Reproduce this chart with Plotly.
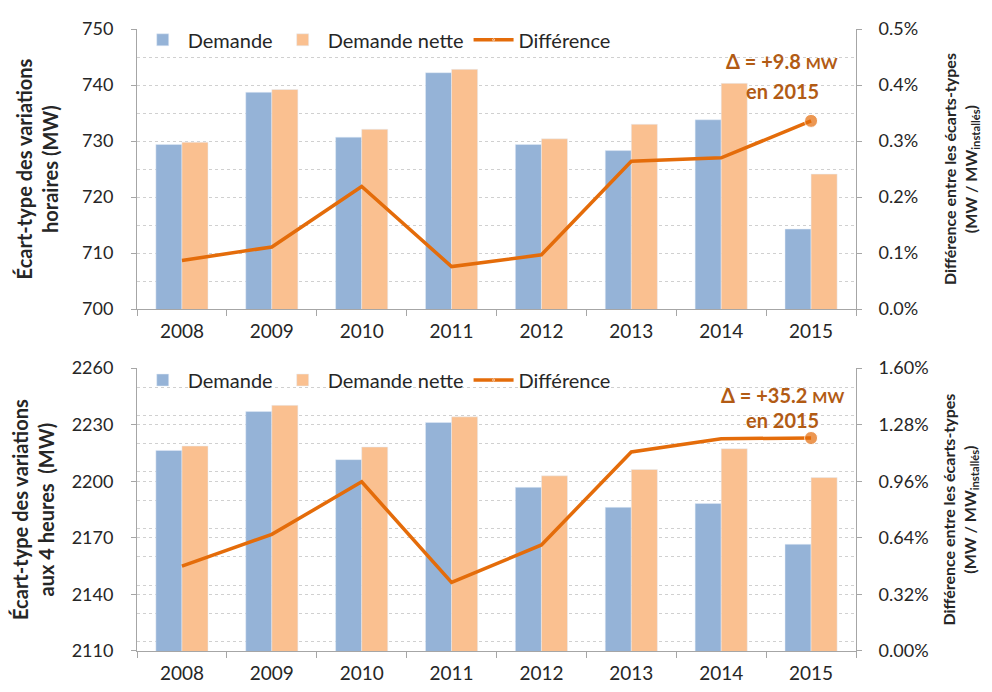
import plotly.graph_objects as go
from plotly.subplots import make_subplots

years = ["2008", "2009", "2010", "2011", "2012", "2013", "2014", "2015"]

# Top panel: hourly variations (MW) and difference (% of installed MW)
demande_h = [729.4, 738.7, 730.7, 742.2, 729.4, 728.3, 733.8, 714.3]
nette_h = [729.8, 739.2, 732.1, 742.8, 730.4, 733.0, 740.3, 724.1]
diff_h = [0.087, 0.111, 0.219, 0.076, 0.097, 0.264, 0.270, 0.336]

# Bottom panel: 4-hour variations (MW) and difference (% of installed MW)
demande_4 = [2216.4, 2237.0, 2211.5, 2231.2, 2196.8, 2186.2, 2188.2, 2166.6]
nette_4 = [2218.7, 2240.3, 2218.2, 2234.2, 2202.9, 2206.3, 2217.3, 2202.0]
diff_4 = [0.480, 0.660, 0.957, 0.388, 0.600, 1.126, 1.201, 1.205]

top_left_ticks = [700, 710, 720, 730, 740, 750]
top_right_ticks = [0.0, 0.1, 0.2, 0.3, 0.4, 0.5]
top_right_labels = ["0.0%", "0.1%", "0.2%", "0.3%", "0.4%", "0.5%"]
bot_left_ticks = [2110, 2140, 2170, 2200, 2230, 2260]
bot_right_ticks = [0.0, 0.32, 0.64, 0.96, 1.28, 1.60]
bot_right_labels = ["0.00%", "0.32%", "0.64%", "0.96%", "1.28%", "1.60%"]

BLUE = "#95B3D7"
ORANGE = "#FAC090"
LINE = "#E46C0A"
ANN = "#B25B14"
FONT = "Lato"
TXT = "#262626"
AXC = "#A6A6A6"
GRID = "#D0D0D0"

fig = make_subplots(rows=2, cols=1, specs=[[{"secondary_y": True}], [{"secondary_y": True}]],
                    vertical_spacing=0.095)

def add_panel(row, dem, net, diff, legend):
    fig.add_trace(go.Bar(x=years, y=dem, name="Demande", marker_color=BLUE,
                         legend=legend), row=row, col=1, secondary_y=False)
    fig.add_trace(go.Bar(x=years, y=net, name="Demande nette", marker_color=ORANGE,
                         legend=legend), row=row, col=1, secondary_y=False)
    sizes = [0] * (len(years) - 1) + [13]
    fig.add_trace(go.Scatter(x=years, y=diff, name="Différence", mode="lines+markers",
                             line=dict(color=LINE, width=3.5),
                             marker=dict(size=sizes, color=LINE),
                             legend=legend), row=row, col=1, secondary_y=True)

add_panel(1, demande_h, nette_h, diff_h, "legend")
add_panel(2, demande_4, nette_4, diff_4, "legend2")

fig.update_layout(
    width=984, height=684,
    margin=dict(l=129, r=136, t=14.6, b=41),
    paper_bgcolor="white", plot_bgcolor="white",
    barmode="group", bargap=0.42, bargroupgap=0.0,
    font=dict(family=FONT, size=18, color=TXT),
    legend=dict(orientation="h", x=0.001, y=1.014, xanchor="left", yanchor="top",
                bgcolor="rgba(0,0,0,0)", font=dict(size=20, color=TXT),
                itemwidth=40, tracegroupgap=0),
    legend2=dict(orientation="h", x=0.001, y=0.467, xanchor="left", yanchor="top",
                 bgcolor="rgba(0,0,0,0)", font=dict(size=20, color=TXT),
                 itemwidth=40, tracegroupgap=0),
)

fig.update_yaxes(domain=[0.5496, 1.0], row=1, col=1)
fig.update_yaxes(domain=[0.0, 0.4547], row=2, col=1)

fig.update_xaxes(type="category", categoryorder="array", categoryarray=years,
                 range=[-0.5, len(years) - 0.5], automargin=False, domain=[0.0, 1.0],
                 showline=True, linecolor=AXC, linewidth=1, ticks="outside", tickcolor=AXC,
                 ticklen=6, tickson="boundaries", tickfont=dict(size=19, color=TXT),
                 ticklabelstandoff=5, showgrid=False, tickangle=0)

left_common = dict(showline=True, linecolor=AXC, linewidth=1, ticks="outside", tickcolor=AXC,
                   ticklen=5, tickfont=dict(size=18, color=TXT), ticklabelstandoff=14,
                   showgrid=True, gridcolor=GRID, griddash="dot", gridwidth=1,
                   zeroline=False, automargin=False)
right_common = dict(showline=True, linecolor=AXC, linewidth=1, ticks="outside", tickcolor=AXC,
                    ticklen=5, tickfont=dict(size=18, color=TXT), ticklabelstandoff=13,
                    showgrid=False, zeroline=False, automargin=False)

left_title_font = dict(size=20, color=TXT)
right_title_font = dict(size=16, color=TXT)
right_title = "<b>Différence entre les écarts-types<br>(MW / MW<sub>installés</sub>)</b>"

fig.update_yaxes(range=[700, 750], tickmode="array", tickvals=top_left_ticks,
                 minor=dict(dtick=5, showgrid=True, gridcolor=GRID, griddash="dot", ticks=""),
                 title=dict(text="<b>Écart-type des variations<br>horaires (MW)</b>",
                            font=left_title_font, standoff=18),
                 row=1, col=1, secondary_y=False, **left_common)
fig.update_yaxes(range=[0, 0.5], tickmode="array", tickvals=top_right_ticks, ticktext=top_right_labels,
                 title=dict(text=right_title, font=right_title_font, standoff=27),
                 row=1, col=1, secondary_y=True, **right_common)

fig.update_yaxes(range=[2110, 2260], tickmode="array", tickvals=bot_left_ticks,
                 minor=dict(dtick=15, showgrid=True, gridcolor=GRID, griddash="dot", ticks=""),
                 title=dict(text="<b>Écart-type des variations<br>aux 4 heures  (MW)</b>",
                            font=left_title_font, standoff=18),
                 row=2, col=1, secondary_y=False, **left_common)
fig.update_yaxes(range=[0, 1.6], tickmode="array", tickvals=bot_right_ticks, ticktext=bot_right_labels,
                 title=dict(text=right_title, font=right_title_font, standoff=16),
                 row=2, col=1, secondary_y=True, **right_common)

ann_font = dict(family=FONT, size=20, color=ANN)
fig.add_annotation(x=6.5, y=0.4, xref="x", yref="y2", xshift=16, yshift=24,
                   text="<b>Δ = +9.8 <span style='font-size:16px'>MW</span></b>",
                   showarrow=False, font=ann_font)
fig.add_annotation(x=6.5, y=0.4, xref="x", yref="y2", xshift=16, yshift=-6,
                   text="<b>en 2015</b>", showarrow=False, font=ann_font)
fig.add_annotation(x=6.5, y=1.28, xref="x2", yref="y4", xshift=16, yshift=30,
                   text="<b>Δ = +35.2 <span style='font-size:16px'>MW</span></b>",
                   showarrow=False, font=ann_font)
fig.add_annotation(x=6.5, y=1.28, xref="x2", yref="y4", xshift=16, yshift=5,
                   text="<b>en 2015</b>", showarrow=False, font=ann_font)

fig.write_html("out.html")
